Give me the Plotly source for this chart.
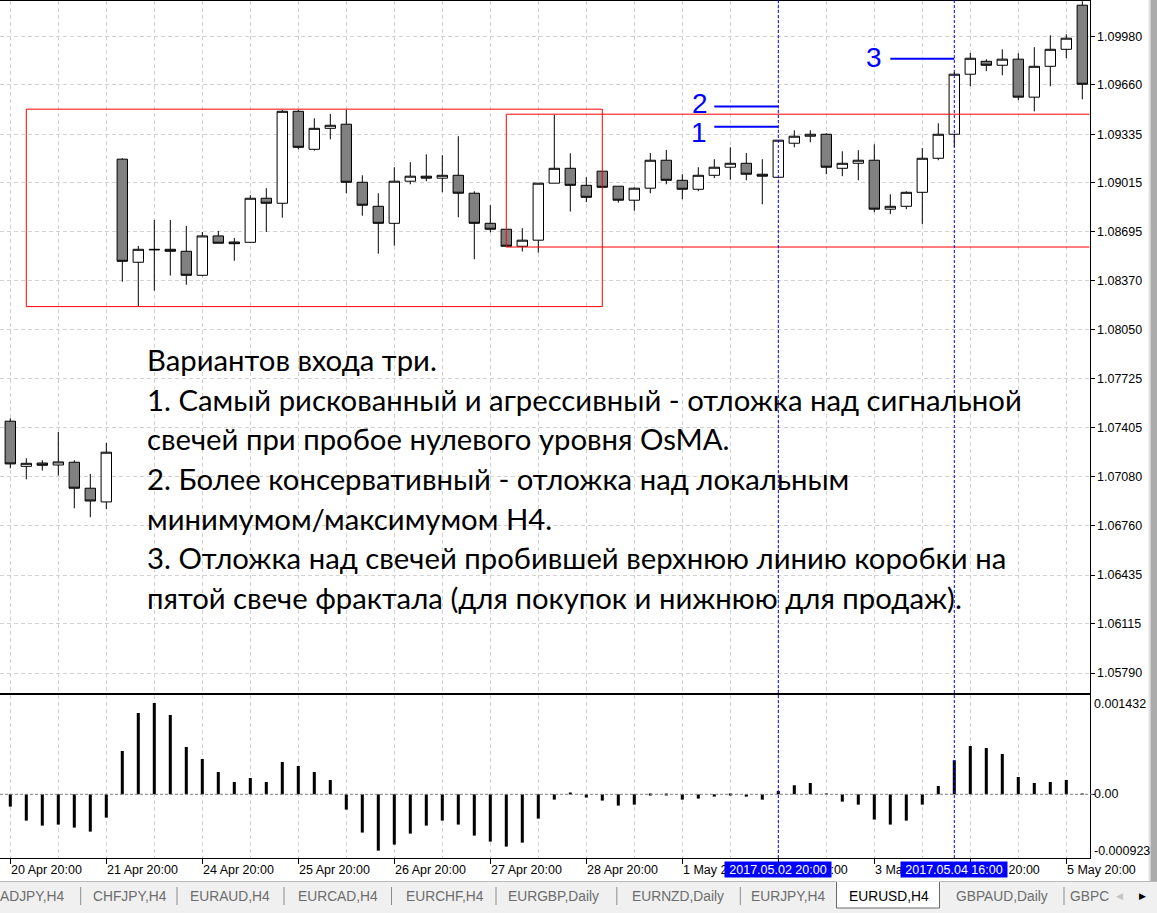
import plotly.graph_objects as go

W, H = 1157, 913

# ---------------- data ----------------
bar_index = list(range(68))
open_ = [1.07447, 1.07150, 1.07172, 1.07159, 1.07177, 1.07006, 1.06916,
         1.09171, 1.08493, 1.08578, 1.08578, 1.08565, 1.08407, 1.08666, 1.08626, 1.08624, 1.08914,
         1.08881, 1.09486, 1.09236, 1.09374, 1.09401, 1.09019, 1.08861, 1.08749, 1.09026, 1.09059,
         1.09046, 1.09065, 1.08947, 1.08749, 1.08710, 1.08598, 1.08638, 1.09013, 1.09111, 1.08999,
         1.09092, 1.08993, 1.08901, 1.08980, 1.09164, 1.09032, 1.08973, 1.09065, 1.09118, 1.09144,
         1.09072, 1.09052, 1.09276, 1.09322, 1.09335, 1.09111, 1.09144, 1.09164, 1.08842, 1.08861,
         1.08953, 1.09177, 1.09335, 1.09730, 1.09815, 1.09789, 1.09829, 1.09579, 1.09782, 1.09894,
         1.10184]
high = [1.07466, 1.07203, 1.07190, 1.07376, 1.07190, 1.07100, 1.07304,
        1.09177, 1.08600, 1.08771, 1.08771, 1.08732, 1.08692, 1.08699, 1.08653, 1.08934, 1.08980,
        1.09495, 1.09495, 1.09440, 1.09469, 1.09495, 1.09065, 1.08947, 1.09118, 1.09151, 1.09203,
        1.09197, 1.09322, 1.08960, 1.08868, 1.08710, 1.08717, 1.09013, 1.09462, 1.09210, 1.09052,
        1.09092, 1.08993, 1.08986, 1.09212, 1.09232, 1.09072, 1.09118, 1.09171, 1.09249, 1.09212,
        1.09171, 1.09296, 1.09361, 1.09361, 1.09342, 1.09223, 1.09230, 1.09269, 1.08940, 1.08960,
        1.09243, 1.09407, 1.09745, 1.09870, 1.09829, 1.09894, 1.09868, 1.09908, 1.09986, 1.09993,
        1.10210]
low = [1.07137, 1.07065, 1.07122, 1.07089, 1.06874, 1.06815, 1.06868,
       1.08365, 1.08205, 1.08306, 1.08405, 1.08345, 1.08401, 1.08618, 1.08503, 1.08624, 1.08692,
       1.08786, 1.09236, 1.09227, 1.09302, 1.08947, 1.08799, 1.08549, 1.08602, 1.09006, 1.09026,
       1.08953, 1.08789, 1.08513, 1.08690, 1.08598, 1.08563, 1.08556, 1.09013, 1.08826, 1.08888,
       1.08986, 1.08885, 1.08832, 1.08947, 1.09006, 1.08907, 1.08960, 1.09046, 1.09036, 1.09032,
       1.08874, 1.09052, 1.09249, 1.09282, 1.09072, 1.09059, 1.09032, 1.08822, 1.08809, 1.08842,
       1.08743, 1.09164, 1.09253, 1.09651, 1.09750, 1.09723, 1.09559, 1.09486, 1.09651, 1.09835,
       1.09565]
close = [1.07166, 1.07170, 1.07157, 1.07179, 1.07006, 1.06922, 1.07243,
         1.08499, 1.08578, 1.08575, 1.08565, 1.08407, 1.08666, 1.08618, 1.08615, 1.08914, 1.08881,
         1.09486, 1.09249, 1.09374, 1.09394, 1.09019, 1.08868, 1.08749, 1.09026, 1.09059, 1.09046,
         1.09065, 1.08947, 1.08749, 1.08710, 1.08598, 1.08638, 1.09013, 1.09111, 1.08999, 1.08920,
         1.08986, 1.08901, 1.08980, 1.09164, 1.09032, 1.08973, 1.09065, 1.09118, 1.09144, 1.09072,
         1.09059, 1.09296, 1.09322, 1.09335, 1.09118, 1.09144, 1.09164, 1.08842, 1.08861, 1.08953,
         1.09177, 1.09335, 1.09730, 1.09835, 1.09789, 1.09829, 1.09579, 1.09782, 1.09894, 1.09967,
         1.09664]
osma = [-0.000180, -0.000385, -0.000458, -0.000443, -0.000487, -0.000546, -0.000341,
        0.000633, 0.001189, 0.001336, 0.001160, 0.000692, 0.000516, 0.000326, 0.000180,
        0.000238, 0.000180, 0.000473, 0.000414, 0.000326, 0.000209,
        -0.000224, -0.000560, -0.000824, -0.000736, -0.000575, -0.000458, -0.000385,
        -0.000443, -0.000604, -0.000692, -0.000765, -0.000707, -0.000356, -0.000078,
        0.000015, -0.000048, -0.000092, -0.000165, -0.000151, -0.000005, -0.000010,
        -0.000078, -0.000063, -0.000034, -0.000004, -0.000034, -0.000078,
        0.000048, 0.000132, 0.000165, 0.000003,
        -0.000107, -0.000151, -0.000370, -0.000443, -0.000385, -0.000151,
        0.000121, 0.000497, 0.000707, 0.000677, 0.000590, 0.000253, 0.000165, 0.000180,
        0.000209, 0.000005]

price_ticks = [1.09980, 1.09660, 1.09335, 1.09015, 1.08695, 1.08370, 1.08050,
               1.07725, 1.07405, 1.07080, 1.06760, 1.06435, 1.06115, 1.05790]
price_tick_text = ["1.09980", "1.09660", "1.09335", "1.09015", "1.08695", "1.08370", "1.08050",
                   "1.07725", "1.07405", "1.07080", "1.06760", "1.06435", "1.06115", "1.05790"]
time_tick_index = [0, 6, 12, 18, 24, 30, 36, 42, 48, 54, 60, 66]
time_tick_text = ["20 Apr 20:00", "21 Apr 20:00", "24 Apr 20:00", "25 Apr 20:00",
                  "26 Apr 20:00", "27 Apr 20:00", "28 Apr 20:00", "1 May 20:00",
                  "2 May 20:00", "3 May 20:00", "4 May 20:00", "5 May 20:00"]
osma_label_text = ["0.001432", "0.00", "-0.000923"]
osma_label_value = [0.001432, 0.0, -0.000923]

marker_index = [48, 59]
marker_text = ["2017.05.02 20:00", "2017.05.04 16:00"]

box1 = dict(x0=1, x1=37, y0=1.08201, y1=1.09500)
box2 = dict(x0=31, x1=90, y0=1.08593, y1=1.09467)

entry_labels = ["1", "2", "3"]
entry_level = [1.09385, 1.09517, 1.09832]
entry_x0 = [44, 44, 55]
entry_x1 = [48, 48, 59]
entry_label_x = [43.05, 43.08, 54.0]
entry_label_y = [1.09344, 1.09538, 1.09840]

text_lines = [
    "Вариантов входа три.",
    "1. Самый рискованный и агрессивный - отложка над сигнальной",
    "свечей при пробое нулевого уровня OsMA.",
    "2. Более консервативный - отложка над локальным",
    "минимумом/максимумом Н4.",
    "3. Отложка над свечей пробившей верхнюю линию коробки на",
    "пятой свече фрактала (для покупок и нижнюю для продаж).",
]

tabs = ["CADJPY,H4", "CHFJPY,H4", "EURAUD,H4", "EURCAD,H4", "EURCHF,H4", "EURGBP,Daily",
        "EURNZD,Daily", "EURJPY,H4", "EURUSD,H4", "GBPAUD,Daily", "GBPC"]
active_tab = "EURUSD,H4"

# ---------------- helpers for layout positions (pixels -> paper) ----------------
def PX(x):
    return x / W


def PY(y):
    return 1 - y / H


AXFONT = dict(family="Liberation Sans, Arial, sans-serif", size=12.5, color="black")
GRID = "#d2d2d2"
GDASH = "4px,3px"

fig = go.Figure()

fig.add_trace(go.Candlestick(
    x=bar_index, open=open_, high=high, low=low, close=close,
    increasing=dict(line=dict(color="black", width=1), fillcolor="white"),
    decreasing=dict(line=dict(color="black", width=1), fillcolor="#808080"),
    whiskerwidth=0, xaxis="x", yaxis="y", hoverinfo="skip", showlegend=False,
))

fig.add_trace(go.Bar(
    x=bar_index, y=osma, width=0.19, marker=dict(color="black", line=dict(width=0)),
    xaxis="x2", yaxis="y2", hoverinfo="skip", showlegend=False,
))

xr = [-0.644, 67.45]

layout = dict(
    width=W, height=H,
    margin=dict(l=0, r=0, t=0, b=0),
    paper_bgcolor="white", plot_bgcolor="white",
    showlegend=False,
    boxgap=0.35, boxgroupgap=0,
    xaxis=dict(domain=[0, PX(1089.5)], range=xr, anchor="y",
               tickmode="linear", tick0=0, dtick=3, showticklabels=False, ticks="",
               showgrid=True, gridcolor=GRID, griddash=GDASH, gridwidth=1,
               showline=True, mirror=True, linecolor="black", linewidth=1,
               zeroline=False, rangeslider=dict(visible=False), fixedrange=True),
    yaxis=dict(domain=[PY(692.5), PY(0.5)], range=[1.05662, 1.10215], anchor="x",
               side="right", tickmode="array", tickvals=price_ticks, ticktext=price_tick_text,
               ticks="outside", ticklen=4, tickcolor="black", tickfont=AXFONT,
               showgrid=True, gridcolor=GRID, griddash=GDASH, gridwidth=1,
               showline=True, mirror=True, linecolor="black", linewidth=1,
               zeroline=False, fixedrange=True),
    xaxis2=dict(domain=[0, PX(1089.5)], range=xr, anchor="y2",
                tickmode="array", tickvals=time_tick_index, ticks="outside", ticklen=5,
                tickcolor="black", showticklabels=False,
                showgrid=False,
                minor=dict(tickmode="linear", tick0=0, dtick=3, showgrid=True,
                           gridcolor=GRID, griddash=GDASH, ticks=""),
                showline=True, mirror=True, linecolor="black", linewidth=1,
                zeroline=False, fixedrange=True),
    yaxis2=dict(domain=[PY(858), PY(694.5)], range=[-0.000932, 0.001460], anchor="x2",
                side="right", tickmode="array", tickvals=[0], ticks="outside", ticklen=4,
                tickcolor="black", showticklabels=False, showgrid=False,
                showline=True, mirror=True, linecolor="black", linewidth=1,
                zeroline=False, fixedrange=True),
)
fig.update_layout(**layout)

shapes = []
annotations = []

# zero line of oscillator
shapes.append(dict(type="line", xref="paper", yref="y2", x0=0, x1=PX(1093), y0=0, y1=0,
                   line=dict(color="#808080", width=1, dash="3px,2px"), layer="above"))

# red boxes
for b in (box1, box2):
    shapes.append(dict(type="rect", xref="x", yref="y", x0=b["x0"], x1=b["x1"],
                       y0=b["y0"], y1=b["y1"], line=dict(color="#ff0000", width=1),
                       fillcolor="rgba(0,0,0,0)", layer="above"))

# blue entry lines + labels
for lab, lvl, a, b, lx, ly in zip(entry_labels, entry_level, entry_x0, entry_x1,
                                  entry_label_x, entry_label_y):
    shapes.append(dict(type="line", xref="x", yref="y", x0=a, x1=b, y0=lvl, y1=lvl,
                       line=dict(color="#0000ff", width=2), layer="above"))
    annotations.append(dict(xref="x", yref="y", x=lx, y=ly, text=lab, showarrow=False,
                            xanchor="center", yanchor="middle",
                            font=dict(family="Liberation Sans, Arial, sans-serif",
                                      size=28, color="#0000ff")))

# blue vertical dotted markers
for mi in marker_index:
    shapes.append(dict(type="line", xref="x", yref="paper", x0=mi, x1=mi,
                       y0=PY(858), y1=1, line=dict(color="#0000ff", width=1, dash="3px,2px"),
                       layer="above"))

# right grey strip
shapes.append(dict(type="rect", xref="paper", yref="paper", x0=PX(1148.5), x1=PX(1150.5),
                   y0=PY(881), y1=1, line=dict(width=0), fillcolor="#e3e3e3", layer="above"))
shapes.append(dict(type="rect", xref="paper", yref="paper", x0=PX(1150.5), x1=1,
                   y0=PY(881), y1=1, line=dict(width=0), fillcolor="#ababab", layer="above"))

# tab bar
shapes.append(dict(type="rect", xref="paper", yref="paper", x0=0, x1=1, y0=0, y1=PY(881),
                   line=dict(width=0), fillcolor="#f0f0f0", layer="above"))
shapes.append(dict(type="line", xref="paper", yref="paper", x0=0, x1=1, y0=PY(881.5),
                   y1=PY(881.5), line=dict(color="#b9b9b9", width=1), layer="above"))
shapes.append(dict(type="rect", xref="paper", yref="paper", x0=PX(836.5), x1=PX(939.5),
                   y0=PY(908), y1=PY(881.5), line=dict(width=0), fillcolor="white",
                   layer="above"))
for seg in ([(836.5, 882), (836.5, 908)], [(939.5, 882), (939.5, 908)],
            [(836.5, 908), (939.5, 908)]):
    shapes.append(dict(type="line", xref="paper", yref="paper",
                       x0=PX(seg[0][0]), y0=PY(seg[0][1]), x1=PX(seg[1][0]), y1=PY(seg[1][1]),
                       line=dict(color="#6a6a6a", width=1), layer="above"))
for sx in [80.7, 177, 284, 391.5, 496, 616.8, 740.3, 1064]:
    shapes.append(dict(type="line", xref="paper", yref="paper", x0=PX(sx), x1=PX(sx),
                       y0=PY(905), y1=PY(887), line=dict(color="#8c8c8c", width=1),
                       layer="above"))

# main text block
line_y = [360, 399.5, 439, 478.5, 518, 557.5, 597]
for t, yy in zip(text_lines, line_y):
    annotations.append(dict(xref="paper", yref="paper", x=PX(145), y=PY(yy), text=t,
                            showarrow=False, xanchor="left", yanchor="middle",
                            font=dict(family="Lato, sans-serif", size=29.3, color="black")))

# time axis labels
for ti, tt in zip(time_tick_index, time_tick_text):
    annotations.append(dict(xref="x2", yref="paper", x=ti, y=PY(869.5), text=tt,
                            showarrow=False, xanchor="left", yanchor="middle",
                            xshift=-1, font=AXFONT))
for mi, mt in zip(marker_index, marker_text):
    annotations.append(dict(xref="x2", yref="paper", x=mi, y=PY(869.5), text=mt,
                            showarrow=False, xanchor="center", yanchor="middle",
                            bgcolor="#0000ff", borderpad=1, width=104, height=13,
                            font=dict(family="Liberation Sans, Arial, sans-serif",
                                      size=12.5, color="white")))

# oscillator scale labels
osma_label_py = [703.5, 794.3, 851]
for lt, lv, lpy in zip(osma_label_text, osma_label_value, osma_label_py):
    annotations.append(dict(xref="paper", yref="paper", x=PX(1092), y=PY(lpy), text=lt,
                            showarrow=False, xanchor="left", yanchor="middle", font=AXFONT))

# tabs
tab_pos = [(66, "right"), (129.8, "center"), (230.3, "center"), (337.8, "center"),
           (444.5, "center"), (553.5, "center"), (677.6, "center"), (788, "center"),
           (889, "center"), (1002, "center"), (1111, "right")]
for name, (tx, anc) in zip(tabs, tab_pos):
    annotations.append(dict(xref="paper", yref="paper", x=PX(tx), y=PY(896.5), text=name,
                            showarrow=False, xanchor=anc, yanchor="middle",
                            font=dict(family="Liberation Sans, Arial, sans-serif", size=13.8,
                                      color="black" if name == active_tab else "#6d6d6d")))
annotations.append(dict(xref="paper", yref="paper", x=PX(1119), y=PY(896), text="◀",
                        showarrow=False, xanchor="center", yanchor="middle",
                        font=dict(family="DejaVu Sans", size=9, color="#c4c4c4")))
annotations.append(dict(xref="paper", yref="paper", x=PX(1142), y=PY(896), text="▶",
                        showarrow=False, xanchor="center", yanchor="middle",
                        font=dict(family="DejaVu Sans", size=9, color="black")))

fig.update_layout(shapes=shapes, annotations=annotations)

fig.write_html("out.html")
